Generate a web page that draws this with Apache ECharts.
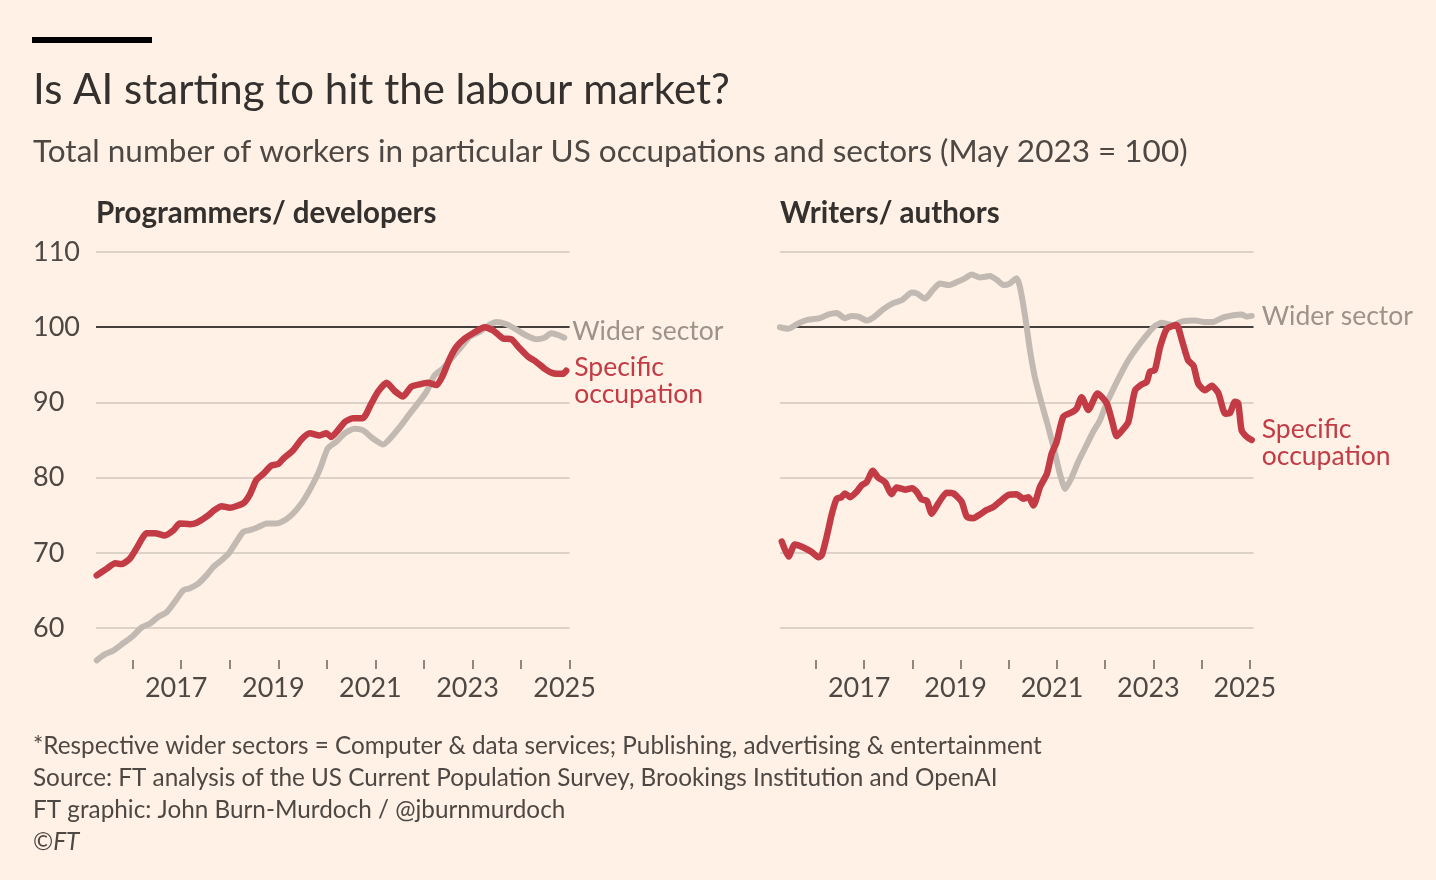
<!DOCTYPE html>
<html><head><meta charset="utf-8">
<script src="https://cdn.jsdelivr.net/npm/echarts@6.0.0/dist/echarts.min.js"></script>
<style>html,body{margin:0;padding:0;background:#FFF1E5;}#c{width:1436px;height:880px;}</style>
</head><body><div id="c"></div>
<script>
// ---- data (decimal year, index May 2023 = 100) ----
const progWiderDates = [2015.26,2015.40,2015.60,2015.81,2015.98,2016.19,2016.36,2016.53,2016.70,2016.87,2017.04,2017.18,2017.35,2017.52,2017.66,2017.83,2018.00,2018.14,2018.28,2018.41,2018.58,2018.76,2018.96,2019.10,2019.27,2019.48,2019.65,2019.85,2020.02,2020.20,2020.37,2020.57,2020.74,2020.95,2021.16,2021.33,2021.50,2021.71,2021.88,2022.05,2022.22,2022.39,2022.60,2022.77,2022.94,2023.15,2023.35,2023.49,2023.70,2023.90,2024.11,2024.31,2024.48,2024.62,2024.79,2024.89];
const progWiderValues = [55.7,56.4,57.0,58.0,58.8,60.1,60.6,61.5,62.1,63.5,65.0,65.3,65.9,67.0,68.1,69.0,70.1,71.5,72.8,73.0,73.4,73.9,73.9,74.2,75.0,76.6,78.4,81.0,83.9,84.8,85.9,86.5,86.3,85.2,84.4,85.4,86.7,88.5,89.9,91.4,93.6,94.5,96.1,97.4,98.7,99.4,100.3,100.7,100.4,99.7,98.9,98.4,98.6,99.2,98.9,98.6];
const progSpecificDates = [2015.26,2015.47,2015.64,2015.77,2015.94,2016.08,2016.29,2016.46,2016.66,2016.84,2016.97,2017.18,2017.32,2017.52,2017.69,2017.83,2018.00,2018.28,2018.41,2018.55,2018.69,2018.86,2019.00,2019.10,2019.30,2019.48,2019.65,2019.85,2019.99,2020.09,2020.23,2020.37,2020.54,2020.74,2020.92,2021.05,2021.23,2021.40,2021.57,2021.74,2021.91,2022.08,2022.26,2022.39,2022.53,2022.67,2022.84,2023.01,2023.25,2023.42,2023.63,2023.80,2023.97,2024.14,2024.31,2024.48,2024.65,2024.86,2024.93];
const progSpecificValues = [67.0,67.9,68.6,68.5,69.2,70.6,72.6,72.6,72.3,73.0,73.9,73.8,74.0,74.8,75.7,76.2,76.0,76.6,77.7,79.7,80.5,81.6,81.8,82.5,83.6,85.1,85.9,85.6,85.9,85.4,86.3,87.4,87.9,87.9,89.9,91.4,92.6,91.5,90.8,92.1,92.4,92.6,92.3,93.6,95.8,97.4,98.5,99.2,100.0,99.6,98.5,98.4,97.2,96.1,95.4,94.5,93.9,93.8,94.2];
const writWiderDates = [2015.25,2015.43,2015.63,2015.84,2016.08,2016.26,2016.43,2016.60,2016.74,2016.88,2017.05,2017.19,2017.40,2017.60,2017.78,2017.99,2018.09,2018.26,2018.43,2018.57,2018.75,2018.92,2019.09,2019.23,2019.40,2019.61,2019.75,2019.89,2020.02,2020.16,2020.23,2020.34,2020.44,2020.54,2020.68,2020.82,2020.96,2021.06,2021.17,2021.31,2021.44,2021.58,2021.75,2021.89,2022.03,2022.17,2022.31,2022.48,2022.65,2022.83,2023.00,2023.17,2023.41,2023.62,2023.86,2024.04,2024.24,2024.45,2024.66,2024.83,2024.94,2025.04];
const writWiderValues = [100.0,99.8,100.5,101.0,101.2,101.7,101.9,101.2,101.5,101.4,100.9,101.3,102.4,103.2,103.6,104.6,104.5,103.8,105.0,105.8,105.6,106.0,106.5,107.0,106.6,106.8,106.3,105.6,105.8,106.5,105.4,101.4,96.9,93.4,89.9,86.7,83.2,80.5,78.5,80.1,82.1,83.9,86.1,87.6,89.9,91.8,93.6,95.6,97.2,98.7,100.0,100.6,100.3,100.8,100.9,100.7,100.7,101.3,101.6,101.7,101.4,101.5];
const writSpecificDates = [2015.29,2015.43,2015.56,2015.74,2015.91,2016.05,2016.12,2016.22,2016.33,2016.43,2016.53,2016.60,2016.71,2016.84,2016.95,2017.05,2017.18,2017.29,2017.43,2017.57,2017.67,2017.85,2017.99,2018.09,2018.19,2018.30,2018.40,2018.54,2018.71,2018.85,2019.02,2019.13,2019.26,2019.40,2019.54,2019.68,2019.85,2019.99,2020.16,2020.30,2020.41,2020.51,2020.65,2020.79,2020.89,2020.99,2021.13,2021.31,2021.41,2021.51,2021.65,2021.84,2022.03,2022.14,2022.24,2022.38,2022.48,2022.62,2022.76,2022.86,2022.93,2023.03,2023.14,2023.28,2023.48,2023.59,2023.72,2023.83,2023.93,2024.07,2024.21,2024.35,2024.49,2024.59,2024.69,2024.76,2024.83,2024.94,2025.04];
const writSpecificValues = [71.5,69.5,71.1,70.7,70.1,69.4,69.7,72.1,75.2,77.2,77.4,77.9,77.4,78.1,79.0,79.4,80.9,80.0,79.4,77.8,78.7,78.4,78.6,78.1,77.1,76.9,75.2,76.6,78.0,77.9,76.8,74.8,74.6,75.1,75.7,76.1,77.0,77.7,77.8,77.2,77.4,76.3,78.8,80.5,83.2,84.7,88.1,88.7,89.2,90.7,89.0,91.2,89.9,87.6,85.5,86.5,87.4,91.6,92.4,92.7,94.1,94.3,97.4,99.8,100.3,98.3,95.6,94.9,92.5,91.6,92.2,91.2,88.5,88.6,90.1,89.9,86.3,85.4,85.0];
const xTickYears = [2016,2017,2018,2019,2020,2021,2022,2023,2024,2025];
const xLabelYears = [2017,2019,2021,2023,2025];
const panelTitles = ['Programmers/ developers','Writers/ authors'];
const seriesNames = ['Wider sector','Specific\noccupation'];

const FONT = 'Lato';
const TEXT = '#33302e';
const MID = '#4e4844';
const RED = '#c23b45';
const GREY = '#c2bab2';
const GREYTXT = '#9c938c';
const GRID = '#dcd2c8';
const BASE = '#45403c';

const zip = (d, v) => d.map((x, i) => [x, v[i]]);

function xAx(idx, min, max) {
  return {
    gridIndex: idx, type: 'value', min: min, max: max, offset: -43.2,
    axisLine: { show: false },
    splitLine: { show: false },
    axisTick: { show: true, customValues: xTickYears, length: 9, lineStyle: { color: '#8d8681', width: 2 } },
    axisLabel: { customValues: xLabelYears, formatter: v => String(v), fontSize: 27, margin: 15, color: MID, fontFamily: FONT, padding: [0, 10, 0, 0] }
  };
}
function yAx(idx, showLabels) {
  return {
    gridIndex: idx, type: 'value', min: 50, max: 110, interval: 10,
    axisLine: { show: false }, axisTick: { show: false },
    axisLabel: { show: showLabels, showMinLabel: false, align: 'left', margin: 63, fontSize: 27, color: MID, fontFamily: FONT },
    splitLine: { show: true, showMinLine: false, lineStyle: { color: [GRID, GRID, GRID, GRID, BASE, GRID], width: 2 } }
  };
}
function line(name, xi, data, color, width, lbl, lblColor, off) {
  return {
    type: 'line', name: name, xAxisIndex: xi, yAxisIndex: xi, data: data,
    showSymbol: false, symbol: 'none', smooth: 0.2,
    lineStyle: { color: color, width: width, cap: 'round', join: 'round' },
    endLabel: { show: true, formatter: lbl, color: lblColor, fontSize: 26.5, lineHeight: 27,
      fontFamily: FONT, distance: 8, offset: off, align: 'left' },
    emphasis: { disabled: true }, silent: true
  };
}

const chart = echarts.init(document.getElementById('c'), null, { renderer: 'canvas' });
chart.setOption({
  backgroundColor: '#FFF1E5',
  animation: false,
  textStyle: { fontFamily: FONT },
  graphic: [{ type: 'rect', shape: { x: 32, y: 37, width: 120, height: 6 }, style: { fill: '#000' } }],
  title: [
    { text: 'Is AI starting to hit the labour market?', left: 33, top: 69, padding: 0,
      textStyle: { fontSize: 42, fontWeight: 'normal', color: TEXT, fontFamily: FONT } },
    { text: 'Total number of workers in particular US occupations and sectors (May 2023 = 100)', left: 33, top: 136, padding: 0,
      textStyle: { fontSize: 31.5, fontWeight: 'normal', color: MID, fontFamily: FONT } },
    { text: panelTitles[0], left: 96, top: 198, padding: 0,
      textStyle: { fontSize: 29.5, fontWeight: 'bold', color: TEXT, fontFamily: FONT } },
    { text: panelTitles[1], left: 780, top: 198, padding: 0,
      textStyle: { fontSize: 29.5, fontWeight: 'bold', color: TEXT, fontFamily: FONT } },
    { text: '*Respective wider sectors = Computer & data services; Publishing, advertising & entertainment\nSource: FT analysis of the US Current Population Survey, Brookings Institution and OpenAI\nFT graphic: John Burn-Murdoch / @jburnmurdoch\n©{i|FT}',
      left: 33, top: 730, padding: 0,
      textStyle: { fontSize: 24.3, fontWeight: 'normal', color: MID, fontFamily: FONT, lineHeight: 32,
        rich: { i: { fontStyle: 'italic', fontSize: 24.3, color: MID, fontFamily: FONT, lineHeight: 32 } } } }
  ],
  grid: [
    { left: 96, top: 252, width: 473.6, height: 451.2 },
    { left: 780, top: 252, width: 473.5, height: 451.2 }
  ],
  xAxis: [xAx(0, 2015.245, 2025), xAx(1, 2015.253, 2025.077)],
  yAxis: [yAx(0, true), yAx(1, false)],
  series: [
    line(seriesNames[0], 0, zip(progWiderDates, progWiderValues), GREY, 6, seriesNames[0], GREYTXT, [0, -6]),
    line(seriesNames[1], 0, zip(progSpecificDates, progSpecificValues), RED, 6.5, seriesNames[1], RED, [0, 10]),
    line(seriesNames[0], 1, zip(writWiderDates, writWiderValues), GREY, 6, seriesNames[0], GREYTXT, [2, 1]),
    line(seriesNames[1], 1, zip(writSpecificDates, writSpecificValues), RED, 6.5, seriesNames[1], RED, [2, 3])
  ]
});
</script></body></html>
